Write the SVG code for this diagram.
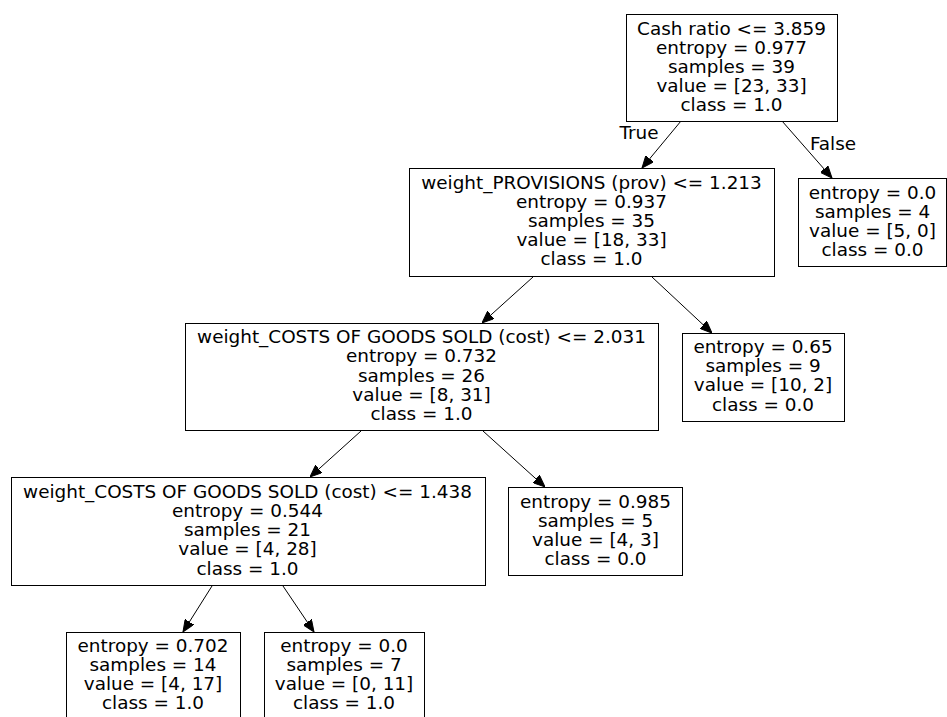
<svg xmlns="http://www.w3.org/2000/svg" width="947" height="717" viewBox="0 0 947 717">
  <defs>
    <style>
      .box { fill: #ffffff; stroke: #000000; stroke-width: 1; }
      .lbl { font-family: "DejaVu Sans", "Liberation Sans", sans-serif; font-size: 18.4px; fill: #000000; text-anchor: middle; }
      .edge { stroke: #000000; stroke-width: 1; fill: none; marker-end: url(#arrow); }
    </style>
    <marker id="arrow" markerUnits="userSpaceOnUse" markerWidth="12" markerHeight="10" refX="12" refY="5" orient="auto">
      <path d="M0,0 L12,5 L0,10 z" fill="#000000" stroke="#000000" stroke-width="1"/>
    </marker>
  </defs>
  <rect width="947" height="717" fill="#ffffff"/>

  <!-- edges of the tree -->
  <g id="edges">
    <line class="edge" x1="681" y1="121" x2="642" y2="168"/>
    <line class="edge" x1="782" y1="121" x2="832" y2="178"/>
    <line class="edge" x1="533" y1="277" x2="482" y2="323"/>
    <line class="edge" x1="652" y1="277" x2="712" y2="333"/>
    <line class="edge" x1="361" y1="431" x2="310" y2="477"/>
    <line class="edge" x1="483" y1="431" x2="545" y2="487"/>
    <line class="edge" x1="212" y1="586" x2="183" y2="632"/>
    <line class="edge" x1="283" y1="586" x2="314" y2="632"/>
    <text class="lbl" x="639" y="139">True</text>
    <text class="lbl" x="833" y="150">False</text>
  </g>

  <!-- root split -->
  <g id="node0">
    <rect class="box" x="626.5" y="14.5" width="211" height="107"/>
    <text class="lbl" x="731.5" y="35">Cash ratio &lt;= 3.859</text>
    <text class="lbl" x="731.5" y="54">entropy = 0.977</text>
    <text class="lbl" x="731.5" y="73">samples = 39</text>
    <text class="lbl" x="731.5" y="92">value = [23, 33]</text>
    <text class="lbl" x="731.5" y="111">class = 1.0</text>
  </g>

  <g id="node1">
    <rect class="box" x="409.5" y="168.5" width="365" height="108"/>
    <text class="lbl" x="591.5" y="188.5">weight_PROVISIONS (prov) &lt;= 1.213</text>
    <text class="lbl" x="591.5" y="207.5">entropy = 0.937</text>
    <text class="lbl" x="591.5" y="226.5">samples = 35</text>
    <text class="lbl" x="591.5" y="245.5">value = [18, 33]</text>
    <text class="lbl" x="591.5" y="264.5">class = 1.0</text>
  </g>

  <g id="node8">
    <rect class="box" x="798.5" y="178.5" width="148" height="88"/>
    <text class="lbl" x="872.5" y="198.5">entropy = 0.0</text>
    <text class="lbl" x="872.5" y="217.5">samples = 4</text>
    <text class="lbl" x="872.5" y="236.5">value = [5, 0]</text>
    <text class="lbl" x="872.5" y="255.5">class = 0.0</text>
  </g>

  <g id="node2">
    <rect class="box" x="185.5" y="323.5" width="473" height="107"/>
    <text class="lbl" x="421.5" y="342.5">weight_COSTS OF GOODS SOLD (cost) &lt;= 2.031</text>
    <text class="lbl" x="421.5" y="362">entropy = 0.732</text>
    <text class="lbl" x="421.5" y="381.5">samples = 26</text>
    <text class="lbl" x="421.5" y="401">value = [8, 31]</text>
    <text class="lbl" x="421.5" y="420">class = 1.0</text>
  </g>

  <g id="node7">
    <rect class="box" x="682.5" y="333.5" width="162" height="88"/>
    <text class="lbl" x="763" y="352.5">entropy = 0.65</text>
    <text class="lbl" x="763" y="371.5">samples = 9</text>
    <text class="lbl" x="763" y="391">value = [10, 2]</text>
    <text class="lbl" x="763" y="410.5">class = 0.0</text>
  </g>

  <g id="node3">
    <rect class="box" x="11.5" y="477.5" width="474" height="108"/>
    <text class="lbl" x="247.5" y="497.5">weight_COSTS OF GOODS SOLD (cost) &lt;= 1.438</text>
    <text class="lbl" x="247.5" y="516.5">entropy = 0.544</text>
    <text class="lbl" x="247.5" y="536">samples = 21</text>
    <text class="lbl" x="247.5" y="555">value = [4, 28]</text>
    <text class="lbl" x="247.5" y="574.5">class = 1.0</text>
  </g>

  <g id="node6">
    <rect class="box" x="508.5" y="487.5" width="174" height="88"/>
    <text class="lbl" x="595.5" y="507.5">entropy = 0.985</text>
    <text class="lbl" x="595.5" y="526.5">samples = 5</text>
    <text class="lbl" x="595.5" y="545.5">value = [4, 3]</text>
    <text class="lbl" x="595.5" y="565">class = 0.0</text>
  </g>

  <g id="node4">
    <rect class="box" x="66.5" y="632.5" width="174" height="88"/>
    <text class="lbl" x="153" y="652">entropy = 0.702</text>
    <text class="lbl" x="153" y="671">samples = 14</text>
    <text class="lbl" x="153" y="690">value = [4, 17]</text>
    <text class="lbl" x="153" y="709">class = 1.0</text>
  </g>

  <g id="node5">
    <rect class="box" x="264.5" y="632.5" width="160" height="88"/>
    <text class="lbl" x="344" y="652">entropy = 0.0</text>
    <text class="lbl" x="344" y="671">samples = 7</text>
    <text class="lbl" x="344" y="690">value = [0, 11]</text>
    <text class="lbl" x="344" y="709">class = 1.0</text>
  </g>
</svg>
